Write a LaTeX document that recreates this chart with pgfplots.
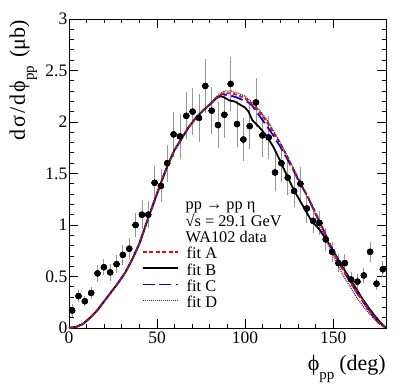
\documentclass[border=0pt]{standalone}
\usepackage{fontspec}
\setmainfont{Liberation Serif}
\usepackage{pgfplots}
\usepackage{pgfplotstable}
\pgfplotsset{compat=1.18}
\definecolor{errgray}{RGB}{150,150,150}

% WA102 data: phi_pp (deg), dsigma/dphi (mub), error
\pgfplotstableread{
x y ey
1.8 0.17 0.04
5.4 0.31 0.04
9.0 0.26 0.03
12.6 0.34 0.04
16.2 0.53 0.06
19.8 0.59 0.06
23.4 0.54 0.06
27.0 0.62 0.07
30.6 0.71 0.08
34.2 0.77 0.08
37.8 1.00 0.10
41.4 1.10 0.12
45.0 1.10 0.11
48.6 1.41 0.14
52.2 1.38 0.14
55.8 1.60 0.16
59.4 1.88 0.20
63.0 1.86 0.20
66.6 2.06 0.21
70.2 2.10 0.21
73.8 2.04 0.21
77.4 2.35 0.24
81.0 2.11 0.21
84.6 1.97 0.20
88.2 2.07 0.21
91.8 2.37 0.24
95.4 1.98 0.20
99.0 1.83 0.19
102.6 1.96 0.20
106.2 2.19 0.22
109.8 1.87 0.19
113.4 1.85 0.19
117.0 1.51 0.16
120.6 1.60 0.16
124.2 1.46 0.15
127.8 1.33 0.14
131.4 1.40 0.14
135.0 1.16 0.12
138.6 1.04 0.10
142.2 1.02 0.10
145.8 0.86 0.09
149.4 0.74 0.08
153.0 0.63 0.07
156.6 0.63 0.07
160.2 0.47 0.05
163.8 0.45 0.05
167.4 0.51 0.05
171.0 0.74 0.08
174.6 0.43 0.04
178.2 0.57 0.06
}\wadata

\newcommand{\sub}[1]{\raisebox{-9bp}{\fontsize{15bp}{15bp}\selectfont #1}}

\begin{document}
\begin{tikzpicture}
\begin{axis}[
  name=ax, at={(0,0)}, anchor=south west,
  scale only axis, width=317bp, height=309bp,
  xmin=0, xmax=180, ymin=0, ymax=3,
  xtick={0,50,100,150}, minor x tick num=4,
  ytick={0,0.5,1,1.5,2,2.5,3}, minor y tick num=4,
  tick align=inside, tick pos=both, ticklabel pos=left,
  major tick length=9bp, minor tick length=4.5bp,
  every tick/.style={black, line width=0.8bp},
  axis line style={line width=0.9bp},
  tick label style={font=\fontsize{17.5bp}{20bp}\selectfont},
  yticklabel style={inner xsep=1.5bp},
  /pgf/number format/assume math mode=true,
  clip=false,
  legend style={at={(axis cs:41.3,1.26)}, anchor=north west, draw=none, fill=none,
    inner sep=0pt, row sep=0pt, column sep=0pt,
    font=\fontsize{16.3bp}{16.3bp}\selectfont,
    nodes={inner sep=0pt, text height=11.5bp, text depth=4.8bp}},
  legend cell align=left,
  legend image code/.code={\draw[#1] (0bp,3.5bp) -- (35bp,3.5bp);},
]
\addplot[only marks, mark=*, mark size=3bp, black, forget plot,
  error bars/.cd, y dir=both, y explicit,
  error bar style={errgray, line width=0.8bp},
  error mark options={errgray, mark size=2bp, line width=0.8bp}]
  table[x=x, y=y, y error=ey] {\wadata};
\addplot[only marks, mark=*, mark size=3bp, black, forget plot,
  error bars/.cd, x dir=both, x fixed=1.8, error mark=none,
  error bar style={black, line width=0.8bp}]
  table[x=x, y=y] {\wadata};

% fit B
\addplot[black, line width=1.8bp, forget plot] table {
x y
0 0
4 0.01
8 0.04
12 0.10
16 0.17
20 0.26
24 0.35
28 0.44
32 0.54
36 0.67
40 0.82
44 1.02
48 1.21
52 1.40
56 1.58
60 1.73
64 1.84
68 1.95
72 2.04
76 2.11
80 2.17
84 2.24
86 2.25
88 2.24
91 2.21
94 2.20
97 2.17
100 2.14
102 2.10
104 2.02
108 1.95
112 1.87
116 1.76
120 1.62
124 1.47
128 1.33
132 1.21
136 1.09
138 1.03
140 1.00
142 0.96
146 0.86
150 0.75
154 0.63
158 0.52
162 0.41
166 0.30
170 0.20
174 0.11
177 0.05
180 0
};
% fit C
\addplot[blue, line width=1.8bp, dash pattern=on 12bp off 4.5bp, forget plot] table {
x y
0 0
4 0.01
8 0.04
12 0.10
16 0.17
20 0.26
24 0.35
28 0.44
32 0.54
36 0.67
40 0.82
44 1.02
48 1.21
52 1.40
56 1.58
60 1.73
64 1.84
68 1.95
72 2.04
76 2.11
80 2.17
84 2.23
87 2.27
91 2.26
95 2.24
99 2.21
102 2.19
104 2.16
106 2.11
109 2.04
112 1.97
116 1.87
120 1.76
124 1.64
128 1.51
132 1.38
136 1.26
140 1.11
144 0.97
148 0.82
152 0.68
156 0.55
160 0.44
164 0.33
168 0.23
172 0.13
176 0.05
180 0
};
% fit A
\addplot[red, line width=1.8bp, dash pattern=on 4bp off 2.5bp, forget plot] table {
x y
0 0
4 0.01
8 0.04
12 0.10
16 0.17
20 0.26
24 0.35
28 0.44
32 0.54
36 0.67
40 0.82
44 1.02
48 1.21
52 1.40
56 1.58
60 1.73
64 1.84
68 1.95
72 2.04
76 2.11
80 2.17
84 2.24
88 2.28
92 2.28
96 2.26
100 2.23
104 2.17
108 2.10
112 2.01
116 1.90
120 1.79
124 1.66
128 1.52
132 1.39
136 1.26
140 1.12
144 0.97
148 0.81
152 0.67
156 0.55
160 0.44
164 0.33
168 0.23
172 0.13
176 0.05
180 0
};
% fit D
\addplot[black!80, line width=1.2bp, dash pattern=on 1bp off 1bp, forget plot] table {
x y
0 0
4 0.01
8 0.04
12 0.10
16 0.17
20 0.26
24 0.35
28 0.44
32 0.54
36 0.67
40 0.82
44 1.02
48 1.21
52 1.40
56 1.58
60 1.73
64 1.84
68 1.95
72 2.04
76 2.11
80 2.17
84 2.25
88 2.30
92 2.30
96 2.28
100 2.25
104 2.19
108 2.12
112 2.03
116 1.92
120 1.80
124 1.67
128 1.53
132 1.39
136 1.25
140 1.10
144 0.94
148 0.78
152 0.63
156 0.50
160 0.39
164 0.28
168 0.19
172 0.11
176 0.04
180 0
};

\addlegendimage{empty legend}\addlegendentry{\hspace{7bp}pp → pp η}
\addlegendimage{empty legend}\addlegendentry{\hspace{7bp}√s = 29.1 GeV}
\addlegendimage{empty legend}\addlegendentry{\hspace{7bp}WA102 data}
\addlegendimage{red, line width=1.8bp, dash pattern=on 4bp off 2.5bp}\addlegendentry{\hspace{8bp}fit A}
\addlegendimage{black, line width=1.8bp}\addlegendentry{\hspace{8bp}fit B}
\addlegendimage{blue, line width=1.8bp, dash pattern=on 12bp off 4.5bp}\addlegendentry{\hspace{8bp}fit C}
\addlegendimage{black!80, line width=1.2bp, dash pattern=on 1bp off 1bp}\addlegendentry{\hspace{8bp}fit D}
\end{axis}
\node[anchor=base east, inner sep=0pt, font=\fontsize{22bp}{22bp}\selectfont]
  at (317bp,-42bp) {ϕ\sub{pp}\hspace{5bp}(deg)};
\node[rotate=90, anchor=base east, inner sep=0pt, font=\fontsize{22bp}{22bp}\selectfont]
  at (-44bp,308bp) {d\hspace{2bp}σ\hspace{2bp}/\hspace{2bp}d\hspace{2bp}ϕ\sub{pp}\hspace{8bp}(μb)};
\pgfresetboundingbox
\path[use as bounding box] (-69bp,-59bp) rectangle (338bp,328bp);
\end{tikzpicture}
\end{document}
